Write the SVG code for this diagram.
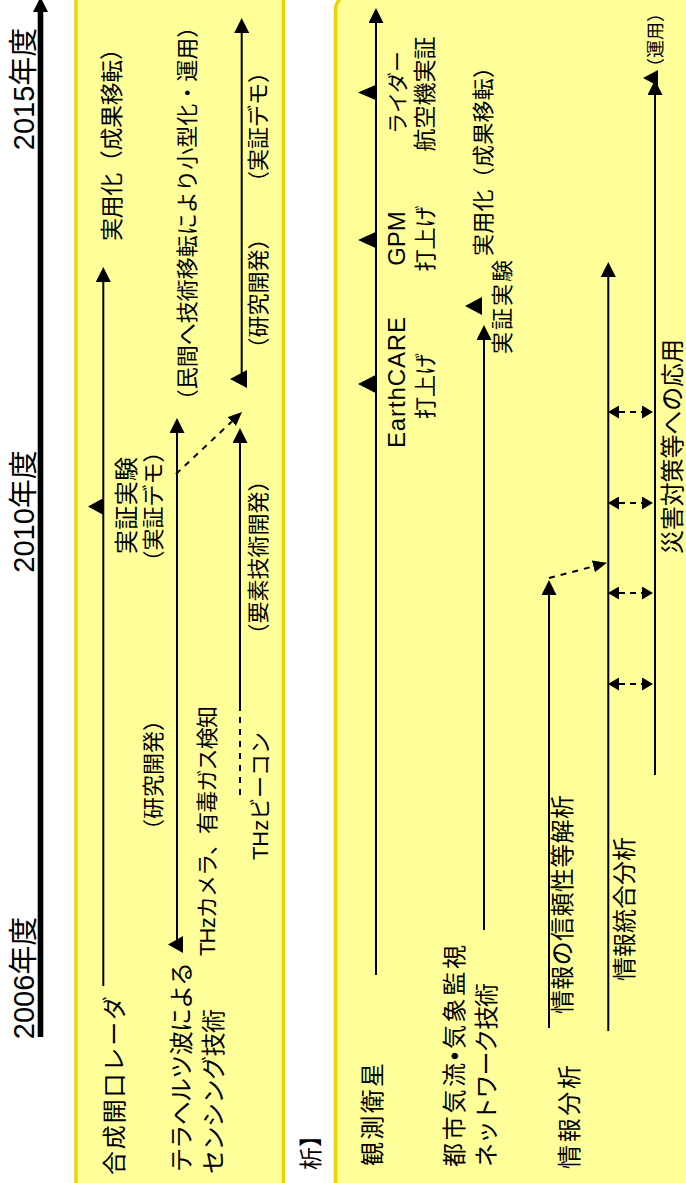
<svg xmlns="http://www.w3.org/2000/svg" width="686" height="1183" viewBox="0 0 686 1183">
<style>
text{font-family:"Liberation Sans","Noto Sans CJK JP",sans-serif;fill:#000}
.panel{fill:#FFFF99;stroke:#EFD20A;stroke-width:3.5}
.ln{stroke:#000;stroke-width:2;fill:none}
.dl{stroke:#000;stroke-width:2;fill:none;stroke-dasharray:6 6}
.ms{fill:#000}
.f29{font-size:29px}
.f24{font-size:24px}
.f23{font-size:23px}
.f22{font-size:22px}
.f21{font-size:21px}
.f18{font-size:18px}
.m{text-anchor:middle}
.e{text-anchor:end}
</style>
<defs>
<marker id="ah" viewBox="0 0 15 15" markerWidth="15" markerHeight="15" refX="0" refY="7.5" orient="auto" markerUnits="userSpaceOnUse"><path d="M0,0 L15,7.5 L0,15 z" fill="#000"/></marker>
<marker id="ahs" viewBox="0 0 14 12" markerWidth="14" markerHeight="12" refX="0" refY="6" orient="auto" markerUnits="userSpaceOnUse"><path d="M0,0 L14,6 L0,12 z" fill="#000"/></marker>
<marker id="ahd" viewBox="0 0 11 13" markerWidth="11" markerHeight="13" refX="0" refY="6.5" orient="auto-start-reverse" markerUnits="userSpaceOnUse"><path d="M0,0 L11,6.5 L0,13 z" fill="#000"/></marker>
</defs>
<rect width="686" height="1183" fill="#fff"/>
<g id="panel-left"><rect class="panel" x="76" y="-20" width="207.5" height="1230"/></g>
<g id="panel-right"><rect class="panel" x="335.5" y="-6" width="400" height="1220" rx="16" ry="16"/></g>
<g id="timeline">
<line x1="40.5" y1="1037" x2="40.5" y2="10" stroke="#000" stroke-width="5.6"/>
<path d="M40.5,-3 L48,12 L33,12 z" fill="#000"/>
<text class="f29 m" transform="translate(34,89) rotate(-90)">2015年度</text>
<text class="f29 m" transform="translate(34,511.5) rotate(-90)">2010年度</text>
<text class="f29 m" transform="translate(34,978) rotate(-90)">2006年度</text>
</g>
<g id="connectors">
<line class="ln" x1="103.3" y1="986" x2="103.3" y2="282" marker-end="url(#ah)"/>
<line class="ln" x1="177" y1="940" x2="177" y2="433" marker-end="url(#ah)"/>
<line class="ln" x1="241.7" y1="379" x2="241.7" y2="33" marker-end="url(#ah)"/>
<line class="ln" x1="240" y1="710" x2="240" y2="443" marker-end="url(#ah)"/>
<line class="dl" x1="240" y1="795" x2="240" y2="710"/>
<line class="dl" x1="176" y1="474" x2="231.8" y2="421.6" marker-end="url(#ahs)"/>
<line class="ln" x1="376" y1="975" x2="376" y2="23" marker-end="url(#ah)"/>
<line class="ln" x1="484" y1="930" x2="484" y2="340" marker-end="url(#ah)"/>
<line class="ln" x1="549" y1="1028" x2="549" y2="595" marker-end="url(#ah)"/>
<line class="ln" x1="608.3" y1="1031" x2="608.3" y2="277" marker-end="url(#ah)"/>
<line class="ln" x1="655" y1="775" x2="655" y2="95" marker-end="url(#ah)"/>
<line class="dl" x1="549" y1="578" x2="593.4" y2="566.4" marker-end="url(#ahs)"/>
<line class="dl" style="stroke-dasharray:6 5" x1="619" y1="412" x2="642" y2="412" marker-start="url(#ahd)" marker-end="url(#ahd)"/>
<line class="dl" style="stroke-dasharray:6 5" x1="619" y1="503" x2="642" y2="503" marker-start="url(#ahd)" marker-end="url(#ahd)"/>
<line class="dl" style="stroke-dasharray:6 5" x1="619" y1="593" x2="642" y2="593" marker-start="url(#ahd)" marker-end="url(#ahd)"/>
<line class="dl" style="stroke-dasharray:6 5" x1="619" y1="684" x2="642" y2="684" marker-start="url(#ahd)" marker-end="url(#ahd)"/>
</g>
<g id="milestones">
<polygon class="ms" points="88,506.5 103.5,498 103.5,515"/>
<polygon class="ms" points="168,944.5 183,936 183,953"/>
<polygon class="ms" points="230,379 247,370 247,388"/>
<polygon class="ms" points="358,92.5 375.5,85 375.5,100"/>
<polygon class="ms" points="358,240 375.5,232 375.5,248"/>
<polygon class="ms" points="358,384 375.5,375 375.5,393"/>
<polygon class="ms" points="465,306 482,297 482,315"/>
<polygon class="ms" points="643,78 658,70 658,86"/>
</g>
<g id="node-sar">
<text class="f24" textLength="179" transform="translate(123,1175) rotate(-90)">合成開口レーダ</text>
<text class="f24" textLength="97" transform="translate(135,554) rotate(-90)">実証実験</text>
<text class="f22 m" transform="translate(161,506.5) rotate(-90)">（実証デモ）</text>
<text class="f23" textLength="204" transform="translate(120,241) rotate(-90)">実用化（成果移転）</text>
</g>
<g id="node-thz">
<text class="f24" textLength="210" transform="translate(190,1172) rotate(-90)">テラヘルツ波による</text>
<text class="f24" textLength="165" transform="translate(222,1174) rotate(-90)">センシング技術</text>
<text class="f22 m" transform="translate(161,775) rotate(-90)">（研究開発）</text>
<text class="f22" textLength="250" transform="translate(215,956) rotate(-90)">THzカメラ、有毒ガス検知</text>
<text class="f22 m" transform="translate(195,213.5) rotate(-90)">（民間へ技術移転により小型化・運用）</text>
</g>
<g id="node-thz-beacon">
<text class="f22" textLength="128" transform="translate(268,860) rotate(-90)">THzビーコン</text>
<text class="f22 m" transform="translate(266,557.5) rotate(-90)">（要素技術開発）</text>
<text class="f22 m" transform="translate(266,293.5) rotate(-90)">（研究開発）</text>
<text class="f22 m" transform="translate(266,127) rotate(-90)">（実証デモ）</text>
</g>
<g id="heading">
<text class="f23 e" transform="translate(319,1124) rotate(-90)">析】</text>
</g>
<g id="node-satellite">
<text class="f24" textLength="103" transform="translate(381,1166) rotate(-90)">観測衛星</text>
<text class="f24 m" textLength="131" transform="translate(405,382.5) rotate(-90)">EarthCARE</text>
<text class="f22 m" transform="translate(433,386) rotate(-90)">打上げ</text>
<text class="f24 m" transform="translate(405,238.5) rotate(-90)">GPM</text>
<text class="f22 m" transform="translate(433,238.5) rotate(-90)">打上げ</text>
<text class="f21 m" transform="translate(405,92.5) rotate(-90)">ライダー</text>
<text class="f23 m" transform="translate(433,94) rotate(-90)">航空機実証</text>
</g>
<g id="node-urban">
<text class="f24" textLength="222" transform="translate(463,1167) rotate(-90)">都市気流•気象監視</text>
<text class="f24" textLength="184" transform="translate(495,1167) rotate(-90)">ネットワーク技術</text>
<text class="f22" textLength="94" transform="translate(510,354) rotate(-90)">実証実験</text>
<text class="f22" textLength="200" transform="translate(491,256) rotate(-90)">実用化（成果移転）</text>
</g>
<g id="node-info">
<text class="f24" textLength="104" transform="translate(578,1169) rotate(-90)">情報分析</text>
<text class="f24" textLength="219" transform="translate(571,1014) rotate(-90)">情報の信頼性等解析</text>
<text class="f24" textLength="144" transform="translate(633,981) rotate(-90)">情報統合分析</text>
<text class="f24" textLength="215" transform="translate(681,554) rotate(-90)">災害対策等への応用</text>
<text class="f18 m" transform="translate(662,40) rotate(-90)">（運用）</text>
</g>
</svg>
